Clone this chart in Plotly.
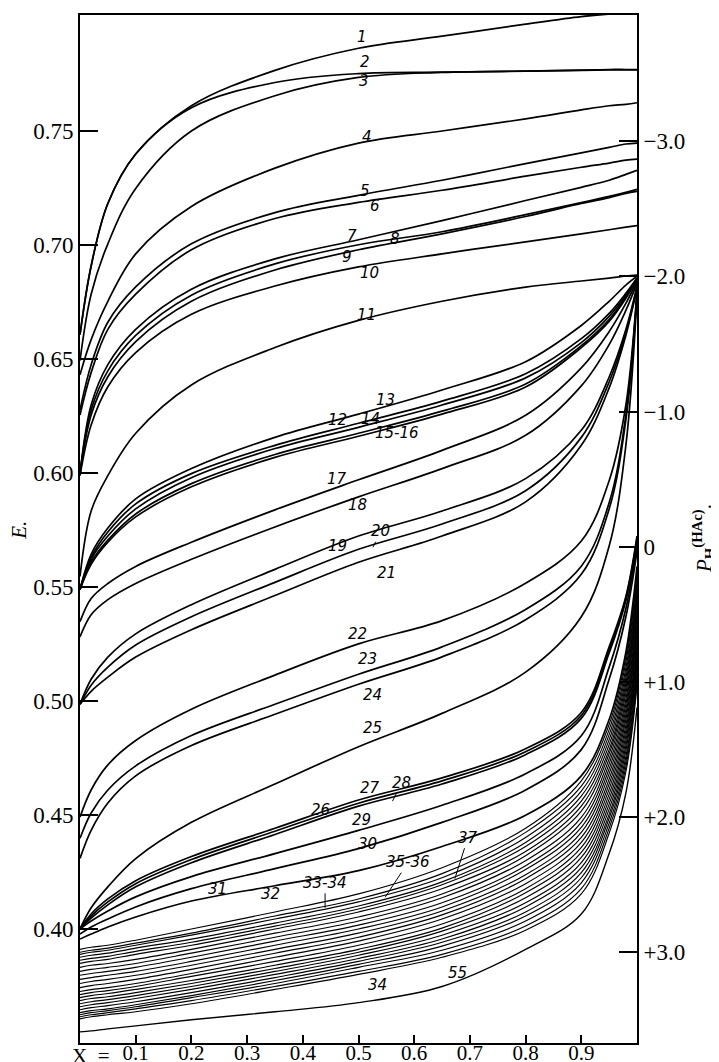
import plotly.graph_objects as go

# Mole fraction grid (X) at which each curve was read
X = [0, 0.02, 0.05, 0.1, 0.2, 0.35, 0.5, 0.65, 0.8, 0.9, 0.95, 0.98, 1.0]

# E (volts) for each numbered curve
e1 = [0.6608, 0.6909, 0.7183, 0.7400, 0.7612, 0.7767, 0.7864, 0.7917, 0.7970, 0.8003, 0.8014, 0.8018, 0.8023]
e2 = [0.6608, 0.6909, 0.7183, 0.7400, 0.7603, 0.7714, 0.7753, 0.7759, 0.7764, 0.7768, 0.7771, 0.7771, 0.7771]
e3 = [0.6494, 0.6785, 0.7006, 0.7249, 0.7501, 0.7656, 0.7736, 0.7758, 0.7764, 0.7767, 0.7769, 0.7769, 0.7769]
e4 = [0.6432, 0.6586, 0.6754, 0.6962, 0.7170, 0.7338, 0.7448, 0.7501, 0.7554, 0.7594, 0.7612, 0.7618, 0.7625]
e5 = [0.6277, 0.6476, 0.6662, 0.6817, 0.7006, 0.7143, 0.7219, 0.7285, 0.7358, 0.7405, 0.7429, 0.7444, 0.7448]
e6 = [0.6255, 0.6441, 0.6631, 0.6785, 0.6980, 0.7117, 0.7188, 0.7241, 0.7303, 0.7342, 0.7360, 0.7373, 0.7378]
e7 = [0.5998, 0.6299, 0.6476, 0.6631, 0.6807, 0.6940, 0.7024, 0.7108, 0.7196, 0.7254, 0.7285, 0.7311, 0.7329]
e8 = [0.5998, 0.6277, 0.6449, 0.6604, 0.6781, 0.6918, 0.7002, 0.7059, 0.7134, 0.7187, 0.7214, 0.7232, 0.7245]
e9 = [0.5998, 0.6255, 0.6423, 0.6577, 0.6754, 0.6891, 0.6980, 0.7050, 0.7126, 0.7183, 0.7209, 0.7227, 0.7236]
e10 = [0.5989, 0.6211, 0.6379, 0.6529, 0.6697, 0.6821, 0.6905, 0.6962, 0.7015, 0.7050, 0.7068, 0.7079, 0.7086]
e11 = [0.5547, 0.5834, 0.5989, 0.6175, 0.6387, 0.6551, 0.6670, 0.6754, 0.6816, 0.6843, 0.6856, 0.6865, 0.6869]
e12 = [0.5490, 0.5622, 0.5724, 0.5843, 0.5980, 0.6108, 0.6201, 0.6299, 0.6418, 0.6573, 0.6688, 0.6780, 0.6856]
e13 = [0.5490, 0.5644, 0.5759, 0.5887, 0.6020, 0.6157, 0.6259, 0.6365, 0.6489, 0.6648, 0.6754, 0.6825, 0.6864]
e14 = [0.5490, 0.5631, 0.5742, 0.5865, 0.5998, 0.6122, 0.6219, 0.6316, 0.6436, 0.6590, 0.6701, 0.6789, 0.6856]
e15 = [0.5490, 0.5609, 0.5706, 0.5821, 0.5954, 0.6082, 0.6175, 0.6272, 0.6391, 0.6559, 0.6674, 0.6772, 0.6851]
e16 = [0.5490, 0.5600, 0.5697, 0.5808, 0.5940, 0.6069, 0.6162, 0.6259, 0.6378, 0.6551, 0.6666, 0.6767, 0.6851]
e17 = [0.5348, 0.5450, 0.5516, 0.5591, 0.5697, 0.5839, 0.5971, 0.6100, 0.6254, 0.6462, 0.6621, 0.6745, 0.6842]
e18 = [0.5282, 0.5379, 0.5445, 0.5516, 0.5622, 0.5764, 0.5896, 0.6020, 0.6166, 0.6383, 0.6564, 0.6714, 0.6834]
e19 = [0.4986, 0.5096, 0.5193, 0.5295, 0.5423, 0.5578, 0.5724, 0.5834, 0.5976, 0.6188, 0.6422, 0.6630, 0.6820]
e20 = [0.4986, 0.5070, 0.5149, 0.5246, 0.5370, 0.5521, 0.5666, 0.5777, 0.5923, 0.6157, 0.6400, 0.6617, 0.6816]
e21 = [0.4986, 0.5043, 0.5105, 0.5193, 0.5313, 0.5463, 0.5609, 0.5724, 0.5874, 0.6122, 0.6374, 0.6604, 0.6811]
e22 = [0.4491, 0.4610, 0.4720, 0.4827, 0.4964, 0.5114, 0.5251, 0.5353, 0.5517, 0.5702, 0.5967, 0.6299, 0.6799]
e23 = [0.4398, 0.4509, 0.4610, 0.4716, 0.4849, 0.4986, 0.5118, 0.5238, 0.5402, 0.5592, 0.5870, 0.6255, 0.6790]
e24 = [0.4310, 0.4433, 0.4553, 0.4672, 0.4805, 0.4942, 0.5074, 0.5194, 0.5357, 0.5556, 0.5843, 0.6233, 0.6785]
e25 = [0.4000, 0.4093, 0.4185, 0.4309, 0.4468, 0.4636, 0.4800, 0.4946, 0.5127, 0.5370, 0.5680, 0.6122, 0.6776]
e26 = [0.4000, 0.4066, 0.4132, 0.4212, 0.4318, 0.4442, 0.4566, 0.4663, 0.4791, 0.4950, 0.5238, 0.5459, 0.5724]
e27 = [0.4000, 0.4057, 0.4119, 0.4199, 0.4305, 0.4429, 0.4552, 0.4650, 0.4778, 0.4937, 0.5224, 0.5450, 0.5715]
e28 = [0.4000, 0.4048, 0.4106, 0.4185, 0.4291, 0.4415, 0.4539, 0.4636, 0.4765, 0.4924, 0.5211, 0.5441, 0.5706]
e29 = [0.4000, 0.4035, 0.4079, 0.4141, 0.4230, 0.4331, 0.4433, 0.4543, 0.4681, 0.4848, 0.5149, 0.5406, 0.5680]
e30 = [0.3978, 0.4009, 0.4044, 0.4097, 0.4177, 0.4265, 0.4353, 0.4468, 0.4610, 0.4787, 0.5096, 0.5370, 0.5658]
e31 = [0.3956, 0.3978, 0.4009, 0.4053, 0.4123, 0.4190, 0.4256, 0.4362, 0.4499, 0.4672, 0.4919, 0.5215, 0.5591]
e32 = [0.3911, 0.3920, 0.3929, 0.3951, 0.4000, 0.4075, 0.4154, 0.4269, 0.4442, 0.4650, 0.4897, 0.5193, 0.5569]
e33 = [0.3898, 0.3907, 0.3916, 0.3938, 0.3982, 0.4057, 0.4132, 0.4243, 0.4424, 0.4627, 0.4875, 0.5171, 0.5547]
e34 = [0.3889, 0.3898, 0.3907, 0.3929, 0.3973, 0.4044, 0.4119, 0.4225, 0.4402, 0.4605, 0.4853, 0.5145, 0.5520]
e35 = [0.3876, 0.3885, 0.3894, 0.3916, 0.3956, 0.4026, 0.4101, 0.4207, 0.4380, 0.4583, 0.4831, 0.5123, 0.5498]
e36 = [0.3863, 0.3871, 0.3880, 0.3902, 0.3942, 0.4013, 0.4088, 0.4194, 0.4362, 0.4561, 0.4809, 0.5100, 0.5476]
e37 = [0.3849, 0.3858, 0.3867, 0.3889, 0.3929, 0.4000, 0.4075, 0.4177, 0.4340, 0.4539, 0.4787, 0.5078, 0.5454]
e38 = [0.3832, 0.3841, 0.3849, 0.3867, 0.3911, 0.3982, 0.4053, 0.4154, 0.4322, 0.4517, 0.4769, 0.5056, 0.5432]
e39 = [0.3814, 0.3823, 0.3832, 0.3849, 0.3894, 0.3964, 0.4035, 0.4137, 0.4300, 0.4490, 0.4747, 0.5034, 0.5410]
e40 = [0.3797, 0.3805, 0.3814, 0.3832, 0.3876, 0.3947, 0.4017, 0.4115, 0.4278, 0.4468, 0.4725, 0.5008, 0.5383]
e41 = [0.3779, 0.3787, 0.3797, 0.3814, 0.3858, 0.3929, 0.4000, 0.4097, 0.4261, 0.4446, 0.4703, 0.4986, 0.5361]
e42 = [0.3761, 0.3770, 0.3779, 0.3797, 0.3841, 0.3911, 0.3982, 0.4079, 0.4238, 0.4424, 0.4681, 0.4963, 0.5339]
e43 = [0.3743, 0.3752, 0.3761, 0.3779, 0.3823, 0.3894, 0.3964, 0.4062, 0.4221, 0.4402, 0.4658, 0.4941, 0.5317]
e44 = [0.3726, 0.3734, 0.3743, 0.3761, 0.3805, 0.3876, 0.3947, 0.4044, 0.4199, 0.4380, 0.4636, 0.4919, 0.5295]
e45 = [0.3712, 0.3721, 0.3730, 0.3748, 0.3792, 0.3858, 0.3929, 0.4022, 0.4177, 0.4358, 0.4614, 0.4893, 0.5269]
e46 = [0.3699, 0.3708, 0.3717, 0.3735, 0.3774, 0.3841, 0.3911, 0.4004, 0.4159, 0.4336, 0.4592, 0.4871, 0.5246]
e47 = [0.3686, 0.3695, 0.3703, 0.3721, 0.3761, 0.3827, 0.3898, 0.3991, 0.4137, 0.4314, 0.4570, 0.4848, 0.5224]
e48 = [0.3672, 0.3681, 0.3690, 0.3708, 0.3748, 0.3814, 0.3885, 0.3973, 0.4115, 0.4291, 0.4548, 0.4826, 0.5202]
e49 = [0.3659, 0.3668, 0.3677, 0.3695, 0.3735, 0.3801, 0.3871, 0.3956, 0.4097, 0.4269, 0.4526, 0.4804, 0.5180]
e50 = [0.3646, 0.3655, 0.3664, 0.3681, 0.3721, 0.3787, 0.3858, 0.3942, 0.4075, 0.4247, 0.4504, 0.4782, 0.5158]
e51 = [0.3633, 0.3642, 0.3650, 0.3668, 0.3708, 0.3774, 0.3845, 0.3925, 0.4057, 0.4225, 0.4486, 0.4756, 0.5131]
e52 = [0.3624, 0.3633, 0.3642, 0.3659, 0.3699, 0.3761, 0.3832, 0.3907, 0.4035, 0.4203, 0.4464, 0.4734, 0.5109]
e53 = [0.3615, 0.3624, 0.3633, 0.3650, 0.3686, 0.3748, 0.3814, 0.3889, 0.4013, 0.4177, 0.4442, 0.4711, 0.5087]
e54 = [0.3606, 0.3615, 0.3624, 0.3637, 0.3672, 0.3735, 0.3801, 0.3876, 0.3995, 0.4154, 0.4420, 0.4689, 0.5065]
e55 = [0.3549, 0.3553, 0.3562, 0.3575, 0.3602, 0.3637, 0.3677, 0.3748, 0.3911, 0.4066, 0.4331, 0.4596, 0.4972]

curves = [e1, e2, e3, e4, e5, e6, e7, e8, e9, e10, e11, e12, e13, e14, e15, e16, e17, e18,
          e19, e20, e21, e22, e23, e24, e25, e26, e27, e28, e29, e30, e31, e32, e33, e34, e35,
          e36, e37, e38, e39, e40, e41, e42, e43, e44, e45, e46, e47, e48, e49, e50, e51, e52,
          e53, e54, e55]

# Curve number labels (text, X, E)
label_text = ["1", "2", "3", "4", "5", "6", "7", "8", "9", "10", "11", "12", "13", "14", "15-16",
              "17", "18", "19", "21", "22", "23", "24", "25", "26", "27", "29", "30", "31", "32",
              "34", "55"]
label_x = [0.507, 0.512, 0.510, 0.516, 0.512, 0.530, 0.489, 0.566, 0.480, 0.520, 0.514, 0.462,
           0.548, 0.522, 0.570, 0.462, 0.498, 0.462, 0.551, 0.498, 0.517, 0.525, 0.525, 0.431,
           0.520, 0.506, 0.517, 0.247, 0.342, 0.534, 0.677]
label_y = [0.7912, 0.7803, 0.7720, 0.7475, 0.7240, 0.7174, 0.7041, 0.7028, 0.6949, 0.6878,
           0.6692, 0.6233, 0.6320, 0.6238, 0.6178, 0.5976, 0.5860, 0.5679, 0.5560, 0.5295,
           0.5185, 0.5026, 0.4884, 0.4522, 0.4619, 0.4478, 0.4371, 0.4177, 0.4155, 0.3753, 0.3805]

# Labels with leader lines: text, tip X, tip E, text offset (px)
leader_text = ["20", "28", "33-34", "35-36", "37"]
leader_x = [0.526, 0.561, 0.440, 0.548, 0.673]
leader_y = [0.5675, 0.4561, 0.4093, 0.4140, 0.4221]
leader_ax = [8, 9, 0, 23, 13]
leader_ay = [-16, -18, -25, -35, -41]

x_ticks = [0.1, 0.2, 0.3, 0.4, 0.5, 0.6, 0.7, 0.8, 0.9]
e_ticks = [0.40, 0.45, 0.50, 0.55, 0.60, 0.65, 0.70, 0.75]
ph_ticks = [-3, -2, -1, 0, 1, 2, 3]
ph_labels = ["\u22123.0", "\u22122.0", "\u22121.0", "0", "+1.0", "+2.0", "+3.0"]

serif = "Liberation Serif"
fig = go.Figure()

for i, ys in enumerate(curves):
    w = 1.7 if i < 31 else 1.15
    if i == 54:
        w = 1.4
    fig.add_trace(go.Scatter(x=X, y=ys, mode="lines",
                             line=dict(color="black", width=w, shape="spline", smoothing=1.0),
                             showlegend=False, hoverinfo="skip"))

# invisible trace bound to the pH axis so that it is drawn
fig.add_trace(go.Scatter(x=[0.5], y=[0], yaxis="y2", mode="markers",
                         marker=dict(opacity=0), showlegend=False, hoverinfo="skip"))

lab_font = dict(family="DejaVu Sans", size=15, color="black")
annotations = []
for t, xv, yv in zip(label_text, label_x, label_y):
    annotations.append(dict(x=xv, y=yv, xref="x", yref="y", text="<i>%s</i>" % t,
                            showarrow=False, font=lab_font))
for t, xv, yv, axv, ayv in zip(leader_text, leader_x, leader_y, leader_ax, leader_ay):
    annotations.append(dict(x=xv, y=yv, xref="x", yref="y", text="<i>%s</i>" % t,
                            showarrow=True, arrowhead=0, arrowwidth=1, arrowcolor="black",
                            ax=axv, ay=ayv, standoff=0, font=lab_font))

annotations.append(dict(x=-0.1095, y=0.4982, xref="paper", yref="paper", text="<i>E.</i>",
                        textangle=-90, showarrow=False, xanchor="center", yanchor="middle",
                        font=dict(family=serif, size=21, color="black")))
annotations.append(dict(x=1.1203, y=0.4903, xref="paper", yref="paper",
                        text="<i>P</i><sub><b>H</b></sub><sup><b>(HAc)</b></sup>.",
                        textangle=-90, showarrow=False, xanchor="center", yanchor="middle",
                        font=dict(family=serif, size=21, color="black")))
annotations.append(dict(x=0.058, y=-0.0125, xref="x", yref="paper", text="X  =",
                        xanchor="right", yanchor="middle", showarrow=False,
                        font=dict(family=serif, size=21, color="black")))

axis_common = dict(showline=True, linewidth=2, linecolor="black", showgrid=False,
                   zeroline=False, tickcolor="black")

fig.update_layout(
    width=719, height=1062,
    margin=dict(l=72, r=90, t=5, b=21),
    paper_bgcolor="white", plot_bgcolor="white",
    xaxis=dict(range=[0, 1], tickvals=x_ticks, ticktext=["%.1f" % v for v in x_ticks],
               ticks="inside", ticklen=8, tickwidth=1.5, mirror=True, ticklabelstandoff=-10,
               tickfont=dict(family=serif, size=21, color="black"), **axis_common),
    yaxis=dict(range=[0.35, 0.801], tickvals=e_ticks, ticktext=["%.2f" % v for v in e_ticks],
               ticks="inside", ticklen=18, tickwidth=2, mirror=True,
               tickfont=dict(family=serif, size=23, color="black"), **axis_common),
    yaxis2=dict(range=[3.671, -3.934], overlaying="y", side="right", tickvals=ph_ticks,
                ticktext=ph_labels, ticks="inside", ticklen=18, tickwidth=2,
                tickfont=dict(family=serif, size=23, color="black"), **axis_common),
    annotations=annotations,
)

fig.write_html("out.html")
